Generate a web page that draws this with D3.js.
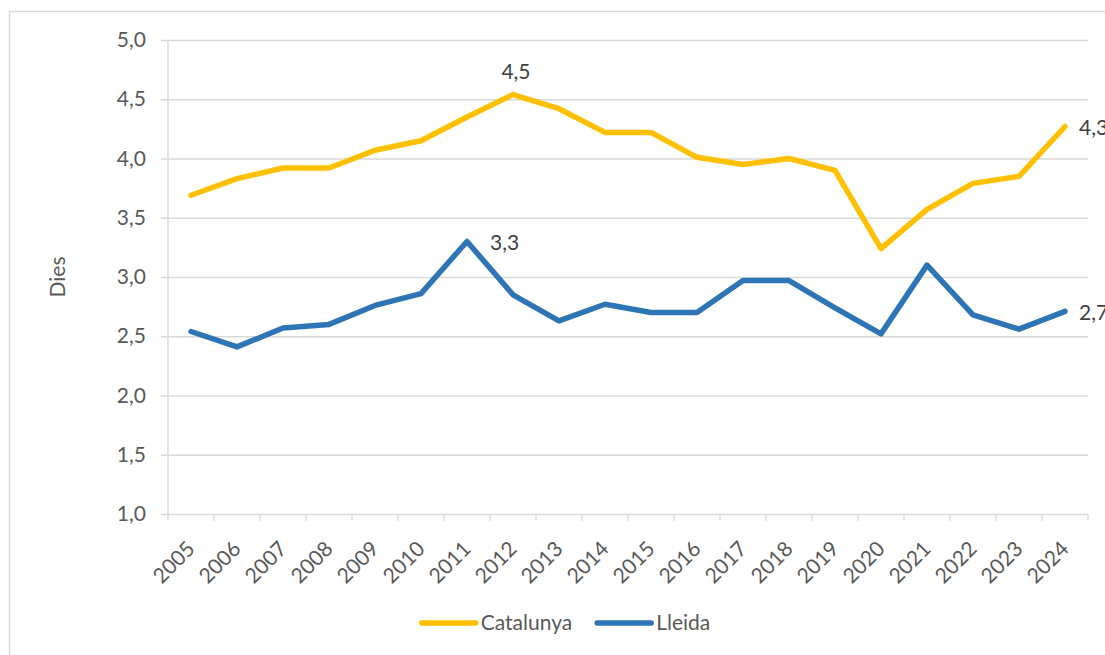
<!DOCTYPE html>
<html>
<head>
<meta charset="utf-8">
<script src="https://cdn.jsdelivr.net/npm/d3@7"></script>
<style>
	body{margin:0;background:#fff;overflow:hidden;}
	text{font-family:Lato, "Open Sans", sans-serif;}
</style>
</head>
<body>
<div id="chart"></div>
<script>
////////////////////////////////////////////////////////////
//////////////////////// Data //////////////////////////////
////////////////////////////////////////////////////////////
var years = ["2005","2006","2007","2008","2009","2010","2011","2012","2013","2014",
	"2015","2016","2017","2018","2019","2020","2021","2022","2023","2024"];

var catalunya = [3.69,3.83,3.92,3.92,4.07,4.15,4.35,4.54,4.42,4.22,
	4.22,4.01,3.95,4.00,3.90,3.24,3.57,3.79,3.85,4.27];

var lleida = [2.54,2.41,2.57,2.60,2.76,2.86,3.30,2.85,2.63,2.77,
	2.70,2.70,2.97,2.97,2.74,2.52,3.10,2.68,2.56,2.71];

var yTicks = [1,1.5,2,2.5,3,3.5,4,4.5,5];
var seriesNames = ["Catalunya","Lleida"];
var seriesColors = ["#FFC000","#2E75B6"];
var labelYears = [["2012","2024"],["2011","2024"]];
var axisTitle = "Dies";

////////////////////////////////////////////////////////////
//////////////////////// Setup /////////////////////////////
////////////////////////////////////////////////////////////
var W = 1105, H = 655,
	plot = {left: 168, top: 40, right: 1088, bottom: 514},
	textColor = "#595959",
	gridColor = "#D9D9D9",
	fontSize = 21;

var svg = d3.select("#chart")
	.append("svg")
	.attr("width", W)
	.attr("height", H);

// chart frame (runs off the right and bottom of the picture)
svg.append("rect")
	.attr("x", 9.5).attr("y", 11.5)
	.attr("width", 1200).attr("height", 700)
	.attr("fill", "none")
	.attr("stroke", gridColor)
	.attr("stroke-width", 1.3);

var x = d3.scaleBand()
	.domain(years)
	.range([plot.left, plot.right]);

var y = d3.scaleLinear()
	.domain([1, 5])
	.range([plot.bottom, plot.top]);

var cx = function(d){ return x(d) + x.bandwidth()/2; };
var fmt = function(v){ return d3.format(".1f")(v).replace(".", ","); };

////////////////////////////////////////////////////////////
//////////////////////// Axes //////////////////////////////
////////////////////////////////////////////////////////////
var yAxis = svg.append("g")
	.attr("transform", "translate(" + plot.left + ",0)")
	.call(d3.axisLeft(y)
		.tickValues(yTicks)
		.tickSizeInner(-(plot.right - plot.left))
		.tickSizeOuter(0)
		.tickPadding(22)
		.tickFormat(fmt));

yAxis.select(".domain").remove();
yAxis.selectAll(".tick line")
	.attr("x1", -7)
	.attr("stroke", gridColor)
	.attr("stroke-width", 1.3);
yAxis.selectAll(".tick text")
	.attr("fill", textColor)
	.style("font-size", fontSize + "px");

// vertical axis line
svg.append("line")
	.attr("x1", plot.left).attr("x2", plot.left)
	.attr("y1", y(5)).attr("y2", y(1))
	.attr("stroke", gridColor)
	.attr("stroke-width", 1.3);

// category boundary ticks
var bounds = years.map(function(d){ return x(d); }).concat([x(years[years.length-1]) + x.step()]);
svg.selectAll(".xTick")
	.data(bounds)
	.enter().append("line")
	.attr("class", "xTick")
	.attr("x1", function(d){ return d; })
	.attr("x2", function(d){ return d; })
	.attr("y1", y(1))
	.attr("y2", y(1) + 7)
	.attr("stroke", gridColor)
	.attr("stroke-width", 1.3);

svg.selectAll(".xLabel")
	.data(years)
	.enter().append("text")
	.attr("class", "xLabel")
	.attr("transform", function(d){ return "translate(" + cx(d) + "," + (y(1) + 31) + ") rotate(-45)"; })
	.attr("text-anchor", "end")
	.attr("dy", "0.35em")
	.attr("fill", textColor)
	.style("font-size", fontSize + "px")
	.text(function(d){ return d; });

svg.append("text")
	.attr("transform", "translate(58," + ((plot.top + plot.bottom)/2 + 0) + ") rotate(-90)")
	.attr("text-anchor", "middle")
	.attr("dy", "0.35em")
	.attr("fill", textColor)
	.style("font-size", fontSize + "px")
	.text(axisTitle);

////////////////////////////////////////////////////////////
//////////////////////// Lines /////////////////////////////
////////////////////////////////////////////////////////////
var series = [catalunya, lleida];

var line = d3.line()
	.x(function(d,i){ return cx(years[i]); })
	.y(function(d){ return y(d); });

series.forEach(function(s, k){
	svg.append("path")
		.datum(s)
		.attr("d", line)
		.attr("fill", "none")
		.attr("stroke", seriesColors[k])
		.attr("stroke-width", 5.5)
		.attr("stroke-linejoin", "round")
		.attr("stroke-linecap", "round");
});

// data labels: the peak of Catalunya sits above, the rest to the right
var labelPlace = [["top","right"],["right","right"]];
var labelGap = [[0,14],[23,14]];
series.forEach(function(s, k){
	labelYears[k].forEach(function(yr, j){
		var i = years.indexOf(yr),
			px = cx(yr), py = y(s[i]),
			top = labelPlace[k][j] == "top";
		svg.append("text")
			.attr("x", top ? px + 3 : px + labelGap[k][j])
			.attr("y", top ? py - 23 : py + 1)
			.attr("dy", "0.35em")
			.attr("text-anchor", top ? "middle" : "start")
			.attr("fill", "#404040")
			.style("font-size", fontSize + "px")
			.text(fmt(s[i]));
	});
});

////////////////////////////////////////////////////////////
//////////////////////// Legend ////////////////////////////
////////////////////////////////////////////////////////////
var legendY = 623, legendCenter = 566, lineLen = 54, textGap = 5, itemGap = 25;
var legend = svg.append("g");
var items = legend.selectAll(".legendItem")
	.data(seriesNames)
	.enter().append("g")
	.attr("class", "legendItem");

items.append("line")
	.attr("x1", 0).attr("x2", lineLen)
	.attr("y1", legendY).attr("y2", legendY)
	.attr("stroke", function(d,i){ return seriesColors[i]; })
	.attr("stroke-width", 5.5)
	.attr("stroke-linecap", "round");

items.append("text")
	.attr("x", lineLen + textGap)
	.attr("y", legendY)
	.attr("dy", "0.35em")
	.attr("fill", textColor)
	.style("font-size", fontSize + "px")
	.text(function(d){ return d; });

var widths = [];
items.each(function(){ widths.push(lineLen + textGap + d3.select(this).select("text").node().getComputedTextLength()); });
var total = d3.sum(widths) + itemGap * (widths.length - 1),
	pos = legendCenter - total/2;
items.attr("transform", function(d,i){
	var t = "translate(" + pos + ",0)";
	pos += widths[i] + itemGap;
	return t;
});
</script>
</body>
</html>
